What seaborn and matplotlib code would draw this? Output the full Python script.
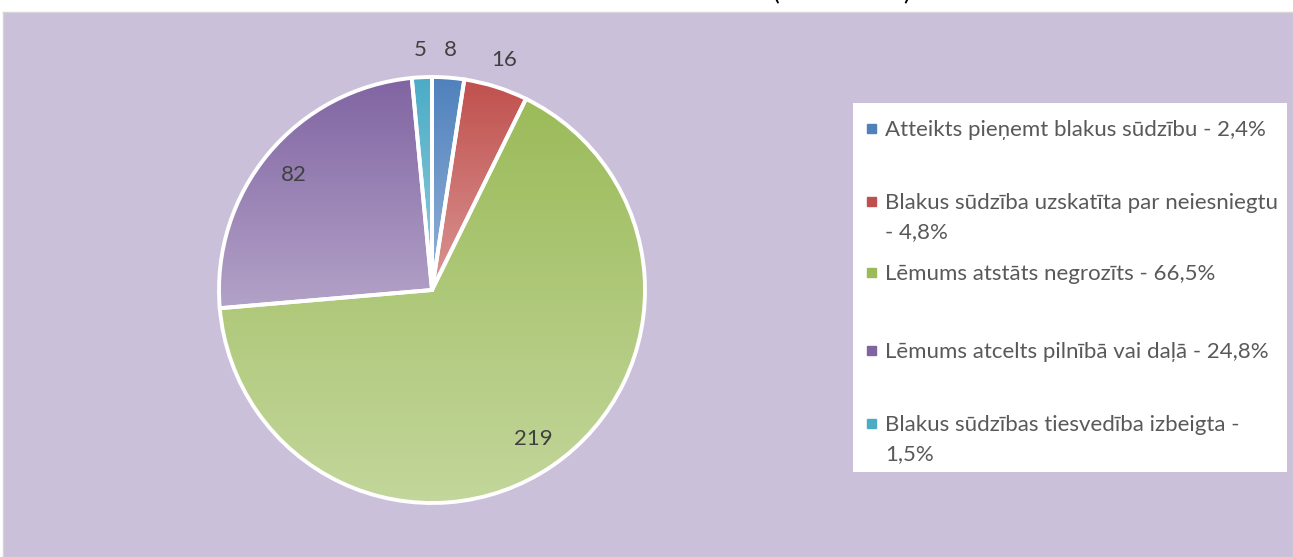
import numpy as np
import matplotlib
matplotlib.use('Agg')
import matplotlib.pyplot as plt
import seaborn as sns

# data
categories = [
    'Atteikts pieņemt blakus sūdzību',
    'Blakus sūdzība uzskatīta par neiesniegtu',
    'Lēmums atstāts negrozīts',
    'Lēmums atcelts pilnībā vai daļā',
    'Blakus sūdzības tiesvedība izbeigta',
]
counts = [8, 16, 219, 82, 5]
percents = ['2,4%', '4,8%', '66,5%', '24,8%', '1,5%']
legend_labels = [
    'Atteikts pieņemt blakus sūdzību - 2,4%',
    'Blakus sūdzība uzskatīta par neiesniegtu\n- 4,8%',
    'Lēmums atstāts negrozīts - 66,5%',
    'Lēmums atcelts pilnībā vai daļā - 24,8%',
    'Blakus sūdzības tiesvedība izbeigta -\n1,5%',
]
base_colors = ['#4F81BD', '#C0504D', '#9BBB59', '#8064A2', '#4BACC6']

sns.set_style('white')
plt.rcParams['font.family'] = ['Lato', 'DejaVu Sans']

W, H = 1293, 557
BG = '#CBC0DA'

fig = plt.figure(figsize=(W / 100, H / 100), dpi=100)
fig.patch.set_facecolor('white')

# lavender chart area
bg = fig.add_axes([3 / W, 0, 1 - 3 / W, (H - 12) / H])
bg.set_facecolor(BG)
bg.set_xticks([])
bg.set_yticks([])
for s in bg.spines.values():
    s.set_color('#D4D4D4')
    s.set_linewidth(1)

# title brackets, mostly above the visible area
fig.text(776 / W, 1 - 0.5 / H, '(', fontsize=18, color='black', va='baseline', ha='center')
fig.text(907 / W, 1 - 0.5 / H, ')', fontsize=18, color='black', va='baseline', ha='center')

# pie
cx, cy, r = 432, H - 290, 213
ax = fig.add_axes([(cx - r) / W, (cy - r) / H, 2 * r / W, 2 * r / H])
wedges, _ = ax.pie(counts, colors=base_colors, startangle=90, counterclock=False,
                   wedgeprops=dict(edgecolor='white', linewidth=2.8))

total = sum(counts)
for w, base, n in zip(wedges, base_colors, counts):
    verts = w.get_path().vertices
    ymin, ymax = verts[:, 1].min(), verts[:, 1].max()
    light = sns.blend_palette([base, 'white'], 11)[4]
    cmap = sns.blend_palette([light, base], as_cmap=True)
    grad = np.linspace(0, 1, 256).reshape(-1, 1)
    im = ax.imshow(grad, cmap=cmap, origin='lower', aspect='auto',
                   extent=(-1, 1, ymin, ymax), zorder=2)
    im.set_clip_path(w)
    w.set_facecolor('none')
    w.set_zorder(3)

    # data labels
    ang = np.deg2rad((w.theta1 + w.theta2) / 2)
    d = 1.13 if n / total < 0.1 else 0.845
    ax.text(d * np.cos(ang), d * np.sin(ang), str(n), ha='center', va='center',
            fontsize=16, color='#404040', zorder=4)

ax.set_xlim(-1, 1)
ax.set_ylim(-1, 1)
ax.set_aspect('auto')
ax.axis('off')

# legend box
lx0, ly0, lx1, ly1 = 853, 103, 1287, 472
lg = fig.add_axes([lx0 / W, (H - ly1) / H, (lx1 - lx0) / W, (ly1 - ly0) / H])
lg.set_xlim(lx0, lx1)
lg.set_ylim(ly1, ly0)
lg.set_facecolor('white')
lg.set_xticks([])
lg.set_yticks([])
for s in lg.spines.values():
    s.set_visible(False)

row_y = [128, 201, 272, 350, 423]
for y, lab, c in zip(row_y, legend_labels, base_colors):
    lg.add_patch(plt.Rectangle((867, y - 4.5), 9, 9, color=c))
    for i, line in enumerate(lab.split('\n')):
        lg.text(885, y + 29 * i, line, fontsize=16, color='#595959',
                va='center_baseline', ha='left')

fig.savefig('out.png', dpi=100, facecolor=fig.get_facecolor())
